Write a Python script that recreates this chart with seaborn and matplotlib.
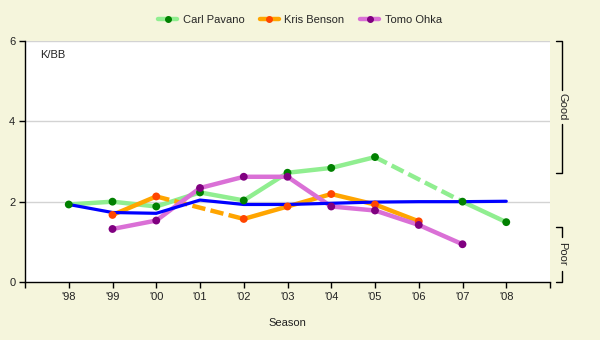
import numpy as np
import pandas as pd
import seaborn as sns
import matplotlib
matplotlib.use("Agg")
import matplotlib.pyplot as plt
from matplotlib.lines import Line2D
import matplotlib.transforms as mtransforms

seasons = [1998, 1999, 2000, 2001, 2002, 2003, 2004, 2005, 2006, 2007, 2008]
season_labels = ["'98", "'99", "'00", "'01", "'02", "'03", "'04", "'05", "'06", "'07", "'08"]

pavano = [1.93, 2.00, 1.88, 2.23, 2.03, 2.72, 2.84, 3.11, np.nan, 2.00, 1.49]
benson = [np.nan, 1.67, 2.13, np.nan, 1.57, 1.88, 2.19, 1.93, 1.51, np.nan, np.nan]
ohka = [np.nan, 1.32, 1.53, 2.34, 2.62, 2.62, 1.88, 1.78, 1.42, 0.94, np.nan]
league = [1.93, 1.73, 1.71, 2.04, 1.93, 1.93, 1.96, 1.99, 2.00, 2.00, 2.01]

series = [
    ("Carl Pavano", pavano, "#90EE90", "#008000"),
    ("Kris Benson", benson, "#FFA500", "#FF4500"),
    ("Tomo Ohka", ohka, "#DA70D6", "#800080"),
]

bg = "#F5F5DC"
sns.set_theme(style="white")
plt.rcParams["font.family"] = ["Liberation Sans", "DejaVu Sans"]
plt.rcParams["font.size"] = 8

fig = plt.figure(figsize=(6, 3.4), dpi=100, facecolor=bg)
ax = fig.add_axes([25 / 600, 1 - 282 / 340, 525 / 600, 241 / 340])
ax.set_facecolor("white")


def runs(xs, ys):
    """Split a series into contiguous runs of present values."""
    out, cur = [], []
    for x, y in zip(xs, ys):
        if np.isnan(y):
            if cur:
                out.append(cur)
            cur = []
        else:
            cur.append((x, y))
    if cur:
        out.append(cur)
    return out


for name, vals, lc, mc in series:
    parts = runs(seasons, vals)
    for seg in parts:
        if len(seg) > 1:
            d = pd.DataFrame(seg, columns=["season", "kbb"])
            sns.lineplot(data=d, x="season", y="kbb", color=lc, lw=3.2,
                         ax=ax, legend=False, zorder=2, solid_capstyle="butt")
    # dashed bridge across missing seasons
    for a, b in zip(parts[:-1], parts[1:]):
        d = pd.DataFrame([a[-1], b[0]], columns=["season", "kbb"])
        sns.lineplot(data=d, x="season", y="kbb", color=lc, lw=3.2, ax=ax,
                     legend=False, zorder=2, linestyle=(0, (3, 1.2)))

ld = pd.DataFrame({"season": seasons, "kbb": league})
sns.lineplot(data=ld, x="season", y="kbb", color="#0000FF", lw=2.3, ax=ax,
             legend=False, zorder=3)

for name, vals, lc, mc in series:
    d = pd.DataFrame({"season": seasons, "kbb": vals}).dropna()
    sns.scatterplot(data=d, x="season", y="kbb", color=mc, s=32, ax=ax,
                    edgecolor="none", legend=False, zorder=4)

ax.set_xlim(1997, 2009)
ax.set_ylim(0, 6)
ax.set_xticks([1997] + seasons + [2009])
ax.set_xticklabels([""] + season_labels + [""])
ax.set_yticks([0, 2, 4, 6])
ax.set_yticklabels(["0", "2", "4", "6"])
ax.tick_params(axis="both", length=4, width=1, color="black", labelsize=8,
               labelcolor="#222222", pad=3, direction="out")
ax.tick_params(axis="x", bottom=True)
ax.tick_params(axis="y", left=True)
ax.grid(False)
for yv in [2, 4, 6]:
    ax.axhline(yv, color="#D3D3D3", lw=1, zorder=1)

for side in ["top", "right"]:
    ax.spines[side].set_visible(False)
for side in ["left", "bottom"]:
    ax.spines[side].set_color("black")
    ax.spines[side].set_linewidth(1)

ax.set_xlabel("Season", fontsize=8, color="#222222", labelpad=12)
ax.set_ylabel("")
ax.text(0.028, 0.94, "K/BB", transform=ax.transAxes, fontsize=8,
        color="#222222", ha="left", va="center")

# rating brackets on the right
tr = mtransforms.blended_transform_factory(ax.transAxes, ax.transData)
xb, xt = 1.0229, 1.011


def bracket(y0, y1, label):
    mid = (y0 + y1) / 2
    gap = 0.42
    kw = dict(transform=tr, color="black", lw=1, clip_on=False)
    ax.add_line(Line2D([xt, xb, xb], [y1, y1, mid + gap], **kw))
    ax.add_line(Line2D([xb, xb, xt], [mid - gap, y0, y0], **kw))
    ax.text(xb, mid, label, transform=tr, rotation=270, ha="center",
            va="center", fontsize=8, color="#222222", clip_on=False)


bracket(2.72, 6.0, "Good")
bracket(0.0, 1.38, "Poor")

handles = [Line2D([0], [0], color=lc, lw=3.2, marker="o", markersize=4,
                  markerfacecolor=mc, markeredgecolor=mc)
           for _, _, lc, mc in series]
fig.legend(handles, [s[0] for s in series], loc="center",
           bbox_to_anchor=(0.5, 1 - 20 / 340), ncol=3, frameon=False,
           fontsize=8, handlelength=1.7, columnspacing=1.4, handletextpad=0.5)

fig.savefig("out.png", dpi=100, facecolor=bg)
